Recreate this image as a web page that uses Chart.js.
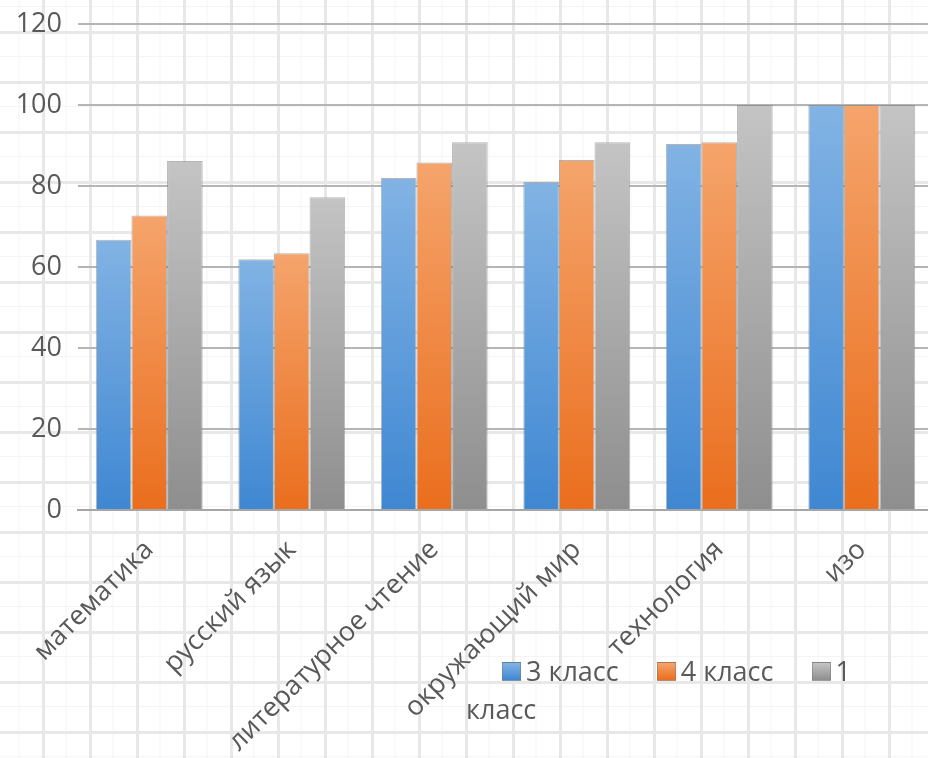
<!DOCTYPE html>
<html>
<head>
<meta charset="utf-8">
<script src="https://cdn.jsdelivr.net/npm/chart.js@4"></script>
<style>
  html, body { margin: 0; padding: 0; }
  body {
    width: 928px; height: 758px; overflow: hidden; position: relative;
    background-color: #fff;
    background-image:
      linear-gradient(to right, #e8e8e8 3px, transparent 3px),
      linear-gradient(to bottom, #e8e8e8 3px, transparent 3px),
      linear-gradient(to right, #f4f4f4 1px, transparent 1px),
      linear-gradient(to bottom, #f4f4f4 1px, transparent 1px);
    background-size: 47px 50px, 47px 50px, 23.5px 25px, 23.5px 25px;
    background-position: 42px 31px, 42px 31px, 42px 31px, 42px 31px;
    font-family: "Open Sans", sans-serif;
  }
  #wrap { position: absolute; left: 0; top: 0; width: 936px; height: 758px; }
  #legend {
    position: absolute; left: 466px; top: 652px; width: 420px;
    font-size: 27px; line-height: 38px; color: #595959; text-indent: 36px;
  }
  #legend .box {
    display: inline-block; width: 19px; height: 19px; margin-right: 5px;
    vertical-align: 0px; box-sizing: border-box; border: 1px solid rgba(120,120,120,0.5);
  }
  #legend .item { margin-right: 31px; }
</style>
</head>
<body>
<div id="wrap"><canvas id="chart"></canvas></div>
<div id="legend"></div>
<script>
// данные диаграммы
const subjects = ['математика', 'русский язык', 'литературное чтение', 'окружающий мир', 'технология', 'изо'];
const seriesNames = ['3 класс', '4 класс', '1 класс'];
const grade3 = [66.7, 61.9, 82, 81, 90.4, 100];
const grade4 = [72.7, 63.4, 85.8, 86.4, 90.8, 100];
const grade1 = [86.2, 77.2, 90.8, 90.8, 100, 100];
const yTicks = [0, 20, 40, 60, 80, 100, 120];

// цвета: верх столбика светлее, низ темнее
const palette = [
    { top: '#82b3e4', bottom: '#3f87d2', swatch: '#4a90d9' },
    { top: '#f5a46c', bottom: '#ea6e1d', swatch: '#f07a2a' },
    { top: '#c4c4c4', bottom: '#8e8e8e', swatch: '#a5a5a5' }
];

function barGradient(idx) {
    return (ctx) => {
        const chart = ctx.chart;
        const area = chart.chartArea;
        if (!area || ctx.type !== 'data') return palette[idx].swatch;
        const y = chart.scales.y;
        const top = y.getPixelForValue(ctx.raw);
        const base = y.getPixelForValue(0);
        if (!(base > top)) return palette[idx].swatch;
        const g = chart.ctx.createLinearGradient(0, top, 0, base);
        g.addColorStop(0, palette[idx].top);
        g.addColorStop(1, palette[idx].bottom);
        return g;
    };
}

const canvas = document.getElementById('chart');
canvas.width = 936;
canvas.height = 758;

const datasets = [grade3, grade4, grade1].map((vals, i) => ({
    label: seriesNames[i],
    data: vals,
    backgroundColor: barGradient(i),
    borderColor: 'rgba(120,120,120,0.55)',
    borderWidth: 1,
    categoryPercentage: 0.75,
    barPercentage: 1
}));

new Chart(canvas, {
    type: 'bar',
    data: { labels: subjects, datasets: datasets },
    options: {
        responsive: false,
        animation: false,
        layout: { padding: { left: 0, right: 3, top: 24, bottom: 0 } },
        plugins: { legend: { display: false }, tooltip: { enabled: false } },
        scales: {
            x: {
                grid: { display: false },
                border: { display: true, color: '#a6a6a6', width: 2 },
                ticks: {
                    autoSkip: false, minRotation: 45, maxRotation: 45, padding: 16,
                    color: '#595959', font: { family: 'Open Sans', size: 27 }
                },
                afterFit: (s) => { s.height = 248; s.paddingTop = 0; }
            },
            y: {
                min: 0, max: 120,
                grid: { color: '#b5b5b5', lineWidth: 2, drawTicks: false },
                border: { display: false },
                afterBuildTicks: (s) => { s.ticks = yTicks.map(v => ({ value: v })); },
                ticks: {
                    padding: 16, color: '#595959', font: { family: 'Open Sans', size: 27 }
                },
                afterFit: (s) => { s.width = 78; s.paddingTop = 0; s.paddingBottom = 0; }
            }
        }
    }
});

// легенда внизу, с переносом как в оригинале
const legendEl = document.getElementById('legend');
seriesNames.forEach((name, i) => {
    const item = document.createElement('span');
    item.className = 'item';
    const box = document.createElement('span');
    box.className = 'box';
    box.style.background = `linear-gradient(${palette[i].top}, ${palette[i].bottom})`;
    item.appendChild(box);
    item.appendChild(document.createTextNode(name));
    legendEl.appendChild(item);
    legendEl.appendChild(document.createTextNode(' '));
});
</script>
</body>
</html>
